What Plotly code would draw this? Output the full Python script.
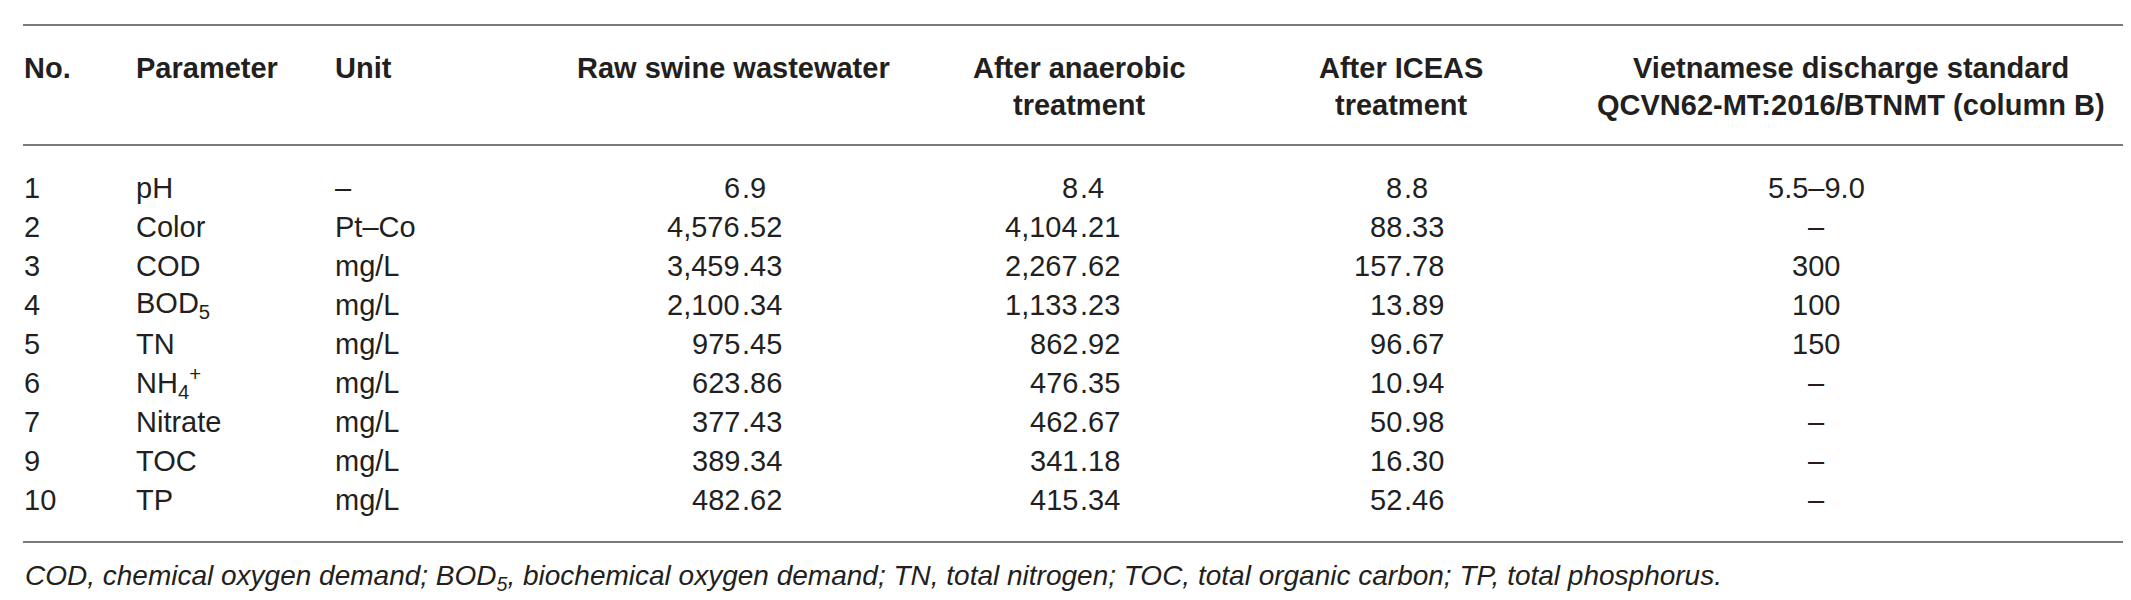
import plotly.graph_objects as go

# table content
no = ["1", "2", "3", "4", "5", "6", "7", "9", "10"]
parameter = ["pH", "Color", "COD", "BOD<sub>5</sub>", "TN", "NH<sub>4</sub><sup>+</sup>",
             "Nitrate", "TOC", "TP"]
unit = ["–", "Pt–Co", "mg/L", "mg/L", "mg/L", "mg/L", "mg/L", "mg/L", "mg/L"]
raw = [6.9, 4576.52, 3459.43, 2100.34, 975.45, 623.86, 377.43, 389.34, 482.62]
anaerobic = [8.4, 4104.21, 2267.62, 1133.23, 862.92, 476.35, 462.67, 341.18, 415.34]
iceas = [8.8, 88.33, 157.78, 13.89, 96.67, 10.94, 50.98, 16.30, 52.46]
decimals = [1, 2, 2, 2, 2, 2, 2, 2, 2]
standard = ["5.5–9.0", "–", "300", "100", "150", "–", "–", "–", "–"]

headers = [["No."], ["Parameter"], ["Unit"], ["Raw swine wastewater"],
           ["After anaerobic", "treatment"], ["After ICEAS", "treatment"],
           ["Vietnamese discharge standard", "QCVN62-MT:2016/BTNMT (column B)"]]
footnote = ("COD, chemical oxygen demand; BOD<sub>5</sub>, biochemical oxygen demand; "
            "TN, total nitrogen; TOC, total organic carbon; TP, total phosphorus.")

W, H = 2131, 600
FONT = "Liberation Sans, Arial, sans-serif"
TXT = "#231f20"
LINE = "#7a7a7a"

left_cols = [15, 127, 326]          # left edges of text columns
dec_cols = [733, 1071, 1395]        # decimal point positions of number columns
std_x = 1808
head_x = [15, 127, 326, 725, 1071, 1393, 1843]
head_y = [60, 97]
row_y0, row_dy = 180, 39

fig = go.Figure()
ann = []


def add(x, y, text, anchor="left", size=29, bold=False, italic=False):
    if bold:
        text = "<b>" + text + "</b>"
    if italic:
        text = "<i>" + text + "</i>"
    ann.append(dict(x=x, y=y, xref="x", yref="y", text=text, showarrow=False,
                    xanchor=anchor, yanchor="middle", borderpad=0,
                    font=dict(family=FONT, size=size, color=TXT)))


# header
for i, lines in enumerate(headers):
    anchor = "left" if i < 3 else "center"
    for k, line in enumerate(lines):
        add(head_x[i], head_y[k], line, anchor=anchor, bold=True)

# body
for r in range(len(no)):
    y = row_y0 + r * row_dy
    add(left_cols[0], y, no[r])
    add(left_cols[1], y, parameter[r])
    add(left_cols[2], y, unit[r])
    for xc, col in zip(dec_cols, [raw, anaerobic, iceas]):
        s = f"{col[r]:,.{decimals[r]}f}"
        ip, fp = s.split(".")
        add(xc, y, ip, anchor="right")
        add(xc, y, "." + fp, anchor="left")
    add(std_x, y, standard[r], anchor="center")

add(16, 569, footnote, size=28, italic=True)

# rules
rule_y = [17, 137, 534]
fig.add_trace(go.Scatter(x=[0], y=[0], mode="markers", marker=dict(opacity=0),
                         hoverinfo="skip", showlegend=False))
shapes = [dict(type="line", xref="x", yref="y", x0=15, x1=2117, y0=yy, y1=yy,
               line=dict(color=LINE, width=2)) for yy in rule_y]

fig.update_layout(
    width=W, height=H,
    margin=dict(l=0, r=0, t=0, b=0),
    paper_bgcolor="white", plot_bgcolor="white",
    xaxis=dict(range=[0, W], visible=False, fixedrange=True),
    yaxis=dict(range=[H, 0], visible=False, fixedrange=True),
    annotations=ann, shapes=shapes, showlegend=False,
)

fig.write_html("out.html")
